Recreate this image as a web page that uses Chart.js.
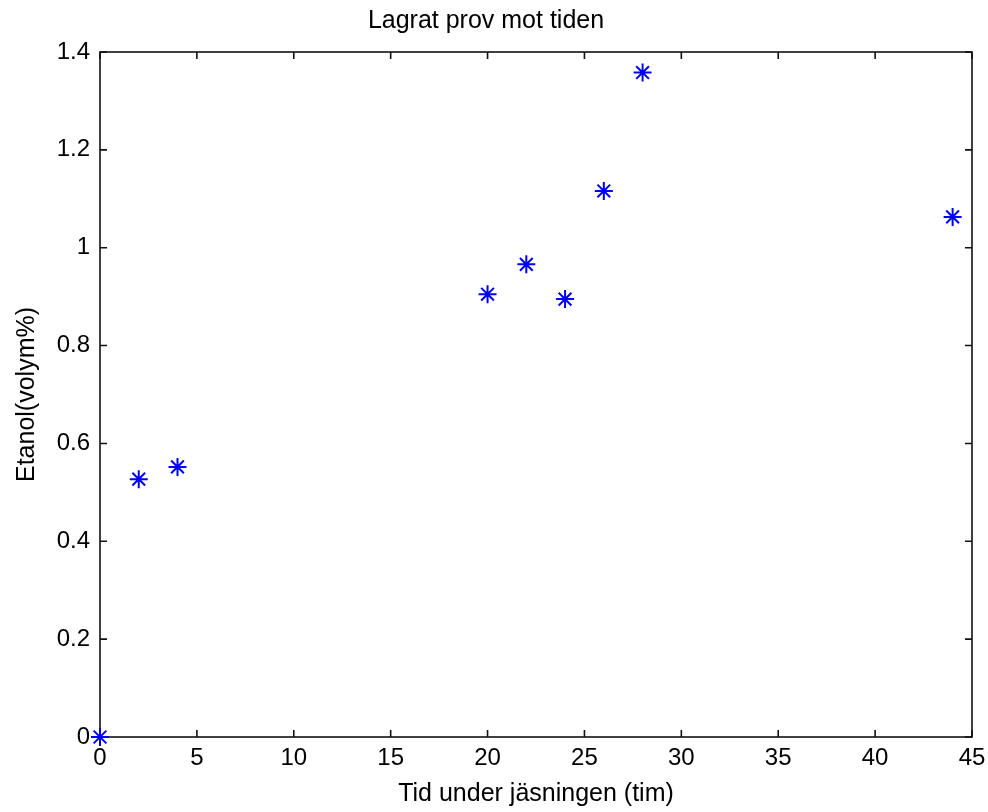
<!DOCTYPE html>
<html>
<head>
<meta charset="utf-8">
<script src="https://cdn.jsdelivr.net/npm/chart.js@4.4.1/dist/chart.umd.min.js"></script>
<style>
  html, body { margin: 0; padding: 0; background: #fff; }
  #wrap { width: 988px; height: 812px; }
</style>
</head>
<body>
<div id="wrap"><canvas id="chart" width="988" height="812"></canvas></div>
<script>
// data
const TIME_H = [0, 2, 4, 20, 22, 24, 26, 28, 44];
const ETHANOL = [0, 0.527, 0.552, 0.905, 0.966, 0.895, 1.116, 1.358, 1.063];
const X_TICKS = [0, 5, 10, 15, 20, 25, 30, 35, 40, 45];
const Y_TICKS = [0, 0.2, 0.4, 0.6, 0.8, 1, 1.2, 1.4];

const TITLE = 'Lagrat prov mot tiden';
const X_LABEL = 'Tid under jäsningen (tim)';
const Y_LABEL = 'Etanol(volym%)';

const FONT = 'Liberation Sans, Arial, Helvetica, sans-serif';

// matlab style box with inward ticks on all four sides
const boxPlugin = {
    id: 'matlabBox',
    beforeDatasetsDraw(chart) {
        const { ctx, chartArea: a, scales } = chart;
        const tick = 7;
        ctx.save();
        ctx.strokeStyle = '#111';
        ctx.lineWidth = 1.6;
        ctx.beginPath();
        X_TICKS.forEach(v => {
            const px = scales.x.getPixelForValue(v);
            ctx.moveTo(px, a.bottom); ctx.lineTo(px, a.bottom - tick);
            ctx.moveTo(px, a.top); ctx.lineTo(px, a.top + tick);
        });
        Y_TICKS.forEach(v => {
            const py = scales.y.getPixelForValue(v);
            ctx.moveTo(a.left, py); ctx.lineTo(a.left + tick, py);
            ctx.moveTo(a.right, py); ctx.lineTo(a.right - tick, py);
        });
        ctx.stroke();
        ctx.strokeRect(a.left, a.top, a.right - a.left, a.bottom - a.top);
        ctx.restore();
    }
};

const ctx = document.getElementById('chart').getContext('2d');
new Chart(ctx, {
    type: 'scatter',
    data: {
        datasets: [{
            data: TIME_H.map((t, i) => ({ x: t, y: ETHANOL[i] })),
            pointStyle: 'star',
            pointRadius: 9,
            pointHoverRadius: 9,
            borderColor: '#0000ff',
            backgroundColor: '#0000ff',
            borderWidth: 2,
            clip: false
        }]
    },
    options: {
        responsive: false,
        animation: false,
        events: [],
        layout: { padding: { left: 0, right: 16, top: 0, bottom: 0 } },
        plugins: {
            legend: { display: false },
            tooltip: { enabled: false },
            title: {
                display: true,
                text: TITLE,
                color: '#000',
                font: { family: FONT, size: 25, weight: 'normal' },
                padding: { top: 6, bottom: 16 }
            }
        },
        scales: {
            x: {
                type: 'linear',
                min: 0, max: 45,
                afterFit(s) { s.height = 75; s.paddingLeft = 0; s.paddingRight = 0; },
                afterBuildTicks(s) { s.ticks = X_TICKS.map(v => ({ value: v })); },
                grid: { display: false, drawTicks: false },
                border: { display: false },
                ticks: {
                    color: '#000', padding: 7, maxRotation: 0,
                    font: { family: FONT, size: 24 },
                    callback: v => String(v)
                },
                title: {
                    display: true, text: X_LABEL, color: '#000',
                    font: { family: FONT, size: 25 },
                    padding: { top: 0, bottom: 3 }
                }
            },
            y: {
                type: 'linear',
                min: 0, max: 1.4,
                afterFit(s) { s.width = 100; s.paddingTop = 0; s.paddingBottom = 0; },
                afterBuildTicks(s) { s.ticks = Y_TICKS.map(v => ({ value: v })); },
                grid: { display: false, drawTicks: false },
                border: { display: false },
                ticks: {
                    color: '#000', padding: 10,
                    font: { family: FONT, size: 24 },
                    callback: v => String(v)
                },
                title: {
                    display: true, text: Y_LABEL, color: '#000',
                    font: { family: FONT, size: 25 },
                    padding: { top: 12, bottom: 0 }
                }
            }
        }
    },
    plugins: [boxPlugin]
});
</script>
</body>
</html>
